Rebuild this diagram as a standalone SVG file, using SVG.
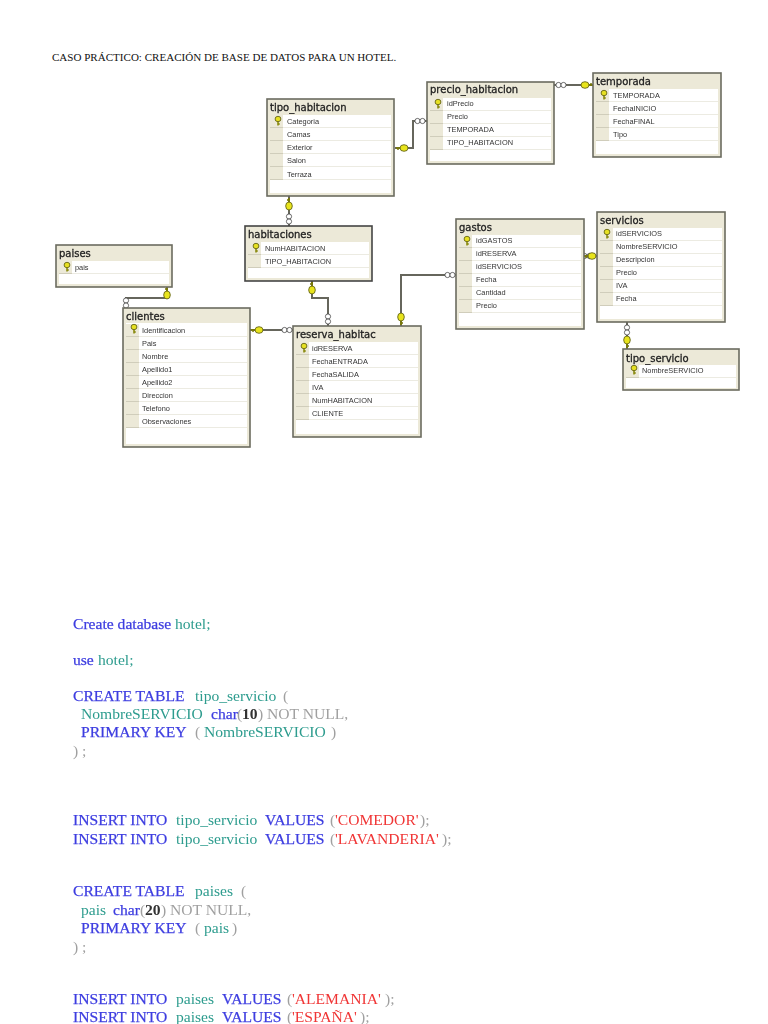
<svg xmlns="http://www.w3.org/2000/svg" width="768" height="1024" viewBox="0 0 768 1024">
<style>
.o{fill:#ece9d8;stroke:#6b6b60;stroke-width:1.6}
.w{fill:#fff}
.h{font:10px "DejaVu Sans",sans-serif;fill:#222;stroke:#222;stroke-width:.3}
.f{font:7.4px "Liberation Sans",sans-serif;fill:#333}
.c{fill:none;stroke:#66665c;stroke-width:2}
.i{fill:#fff;stroke:#444;stroke-width:.8}
.cap{font:11.05px "Liberation Serif",serif;fill:#111}
.s{font:15.6px "Liberation Serif",serif}
.b{fill:#3d3de0;stroke:#3d3de0;stroke-width:.25}.t{fill:#2d9c8e}.g{fill:#a0a0a0}.r{fill:#f03535}.n{fill:#333;font-weight:bold}
</style>
<defs>
<filter id="soft" x="-5%" y="-5%" width="110%" height="110%"><feGaussianBlur stdDeviation="0.45"/></filter>
<pattern id="rows" patternUnits="userSpaceOnUse" x="3" y="16" width="300" height="13">
<rect width="300" height="13" fill="#fff"/>
<rect width="13" height="12" fill="#ece9d8"/>
<rect y="12" width="13" height="1" fill="#d0cdbb"/>
<rect x="13" y="12" width="287" height="1" fill="#ecebe2"/>
</pattern>
<g id="pk"><path d="M0 0V4.5M0 3H1.8" stroke="#8a8a10" stroke-width="1.6" fill="none"/><ellipse cx="0" cy="-2" rx="2.9" ry="2.7" fill="#e6e020" stroke="#66661a" stroke-width=".9"/></g>
<g id="rk"><path d="M-6 0H0M-4 0V1.8" stroke="#777710" stroke-width="2" fill="none"/><ellipse cx="2" cy="0" rx="4" ry="3.3" fill="#e8e41c" stroke="#66661a" stroke-width=".9"/></g>
<g id="inf"><circle cx="-2.5" cy="0" r="2.6" class="i"/><circle cx="2.5" cy="0" r="2.6" class="i"/></g>
</defs>
<rect width="768" height="1024" fill="#fff"/>
<text class="cap" x="52" y="61">CASO PRÁCTICO: CREACIÓN DE BASE DE DATOS PARA UN HOTEL.</text>
<g filter="url(#soft)">
<g id="connectors">
<path class="c" d="M395 148H413V121H427"/><use href="#rk" x="402" y="148"/><use href="#inf" x="420" y="121"/>
<path class="c" d="M554 85H593"/><use href="#inf" x="561" y="85"/><use href="#rk" transform="translate(587 85) rotate(180)"/>
<path class="c" d="M289 196V226"/><use href="#rk" transform="translate(289 204) rotate(90)"/><use href="#inf" transform="translate(289 219) rotate(90)"/>
<path class="c" d="M312 281V298H328V326"/><use href="#rk" transform="translate(312 288) rotate(90)"/><use href="#inf" transform="translate(328 319) rotate(90)"/>
<path class="c" d="M167 287V298H126V308"/><use href="#rk" transform="translate(167 293) rotate(90)"/><use href="#inf" transform="translate(126 303) rotate(90)"/>
<path class="c" d="M250 330H293"/><use href="#rk" x="257" y="330"/><use href="#inf" x="287" y="330"/>
<path class="c" d="M401 326V275H456"/><use href="#rk" transform="translate(401 319) rotate(-90)"/><use href="#inf" x="450" y="275"/>
<path class="c" d="M584 256H597"/><use href="#inf" x="587" y="256"/><use href="#rk" transform="translate(590 256)"/>
<path class="c" d="M627 322V349"/><use href="#inf" transform="translate(627 330) rotate(90)"/><use href="#rk" transform="translate(627 342) rotate(-90)"/>
</g>
<g id="tipo_habitacion" transform="translate(267 99)"><rect class="o" width="127" height="97"/><rect class="w" x="3" y="16" width="121" height="78"/><rect x="3" y="16" width="121" height="65" fill="url(#rows)"/><text class="h" x="3" y="12">tipo_habitacion</text><use href="#pk" x="11" y="22"/><text class="f" x="20" y="25">Categoria</text><text class="f" x="20" y="38">Camas</text><text class="f" x="20" y="51">Exterior</text><text class="f" x="20" y="64">Salon</text><text class="f" x="20" y="78">Terraza</text></g>
<g id="precio_habitacion" transform="translate(427 82)"><rect class="o" width="127" height="82"/><rect class="w" x="3" y="16" width="121" height="63"/><rect x="3" y="16" width="121" height="52" fill="url(#rows)"/><text class="h" x="3" y="11">precio_habitacion</text><use href="#pk" x="11" y="22"/><text class="f" x="20" y="24">idPrecio</text><text class="f" x="20" y="37">Precio</text><text class="f" x="20" y="50">TEMPORADA</text><text class="f" x="20" y="63">TIPO_HABITACION</text></g>
<g id="temporada" transform="translate(593 73)"><rect class="o" width="128" height="84"/><rect class="w" x="3" y="16" width="122" height="65"/><rect x="3" y="16" width="122" height="52" fill="url(#rows)"/><text class="h" x="3" y="12">temporada</text><use href="#pk" x="11" y="22"/><text class="f" x="20" y="25">TEMPORADA</text><text class="f" x="20" y="38">FechaINICIO</text><text class="f" x="20" y="51">FechaFINAL</text><text class="f" x="20" y="64">Tipo</text></g>
<g id="paises" transform="translate(56 245)"><rect class="o" width="116" height="42"/><rect class="w" x="3" y="16" width="110" height="23"/><rect x="3" y="16" width="110" height="13" fill="url(#rows)"/><text class="h" x="3" y="12">paises</text><use href="#pk" x="11" y="22"/><text class="f" x="19" y="25">pais</text></g>
<g id="clientes" transform="translate(123 308)"><rect class="o" width="127" height="139"/><rect class="w" x="3" y="15" width="121" height="121"/><rect x="3" y="16" width="121" height="104" fill="url(#rows)"/><text class="h" x="3" y="12">clientes</text><use href="#pk" x="11" y="21"/><text class="f" x="19" y="25">Identificacion</text><text class="f" x="19" y="38">Pais</text><text class="f" x="19" y="51">Nombre</text><text class="f" x="19" y="64">Apellido1</text><text class="f" x="19" y="77">Apellido2</text><text class="f" x="19" y="90">Direccion</text><text class="f" x="19" y="103">Telefono</text><text class="f" x="19" y="116">Observaciones</text></g>
<g id="habitaciones" transform="translate(245 226)"><rect class="o" width="127" height="55" style="stroke:#444"/><rect class="w" x="3" y="16" width="121" height="36"/><rect x="3" y="16" width="121" height="26" fill="url(#rows)"/><text class="h" x="3" y="12">habitaciones</text><use href="#pk" x="11" y="22"/><text class="f" x="20" y="25">NumHABITACION</text><text class="f" x="20" y="38">TIPO_HABITACION</text></g>
<g id="reserva_habitac" transform="translate(293 326)"><rect class="o" width="128" height="111"/><rect class="w" x="3" y="16" width="122" height="92"/><rect x="3" y="16" width="122" height="78" fill="url(#rows)"/><text class="h" x="3" y="12">reserva_habitac</text><use href="#pk" x="11" y="22"/><text class="f" x="19" y="25">idRESERVA</text><text class="f" x="19" y="38">FechaENTRADA</text><text class="f" x="19" y="51">FechaSALIDA</text><text class="f" x="19" y="64">IVA</text><text class="f" x="19" y="77">NumHABITACION</text><text class="f" x="19" y="90">CLIENTE</text></g>
<g id="gastos" transform="translate(456 219)"><rect class="o" width="128" height="110"/><rect class="w" x="3" y="16" width="122" height="91"/><rect x="3" y="16" width="122" height="78" fill="url(#rows)"/><text class="h" x="3" y="12">gastos</text><use href="#pk" x="11" y="22"/><text class="f" x="20" y="24">idGASTOS</text><text class="f" x="20" y="37">idRESERVA</text><text class="f" x="20" y="50">idSERVICIOS</text><text class="f" x="20" y="63">Fecha</text><text class="f" x="20" y="76">Cantidad</text><text class="f" x="20" y="89">Precio</text></g>
<g id="servicios" transform="translate(597 212)"><rect class="o" width="128" height="110"/><rect class="w" x="3" y="16" width="122" height="91"/><rect x="3" y="16" width="122" height="78" fill="url(#rows)"/><text class="h" x="3" y="12">servicios</text><use href="#pk" x="10" y="22"/><text class="f" x="19" y="24">idSERVICIOS</text><text class="f" x="19" y="37">NombreSERVICIO</text><text class="f" x="19" y="50">Descripcion</text><text class="f" x="19" y="63">Precio</text><text class="f" x="19" y="76">IVA</text><text class="f" x="19" y="89">Fecha</text></g>
<g id="tipo_servicio" transform="translate(623 349)"><rect class="o" width="116" height="41"/><rect class="w" x="3" y="16" width="110" height="23"/><rect x="3" y="16" width="110" height="13" fill="url(#rows)"/><text class="h" x="3" y="13">tipo_servicio</text><use href="#pk" x="11" y="21"/><text class="f" x="19" y="24">NombreSERVICIO</text></g>
</g>
<g filter="url(#soft)" class="s">
<text y="629"><tspan class="b" x="73">Create database</tspan><tspan class="t" x="175">hotel;</tspan></text>
<text y="665"><tspan class="b" x="73">use</tspan><tspan class="t" x="98">hotel;</tspan></text>
<text y="701"><tspan class="b" x="73">CREATE TABLE</tspan><tspan class="t" x="195">tipo_servicio</tspan><tspan class="g" x="283">(</tspan></text>
<text y="719"><tspan class="t" x="81">NombreSERVICIO</tspan><tspan class="b" x="211">char</tspan><tspan class="g" x="237">(</tspan><tspan class="n" x="242">10</tspan><tspan class="g" x="258">) NOT NULL,</tspan></text>
<text y="737"><tspan class="b" x="81">PRIMARY KEY</tspan><tspan class="g" x="195">(</tspan><tspan class="t" x="204">NombreSERVICIO</tspan><tspan class="g" x="331">)</tspan></text>
<text y="756" class="g" x="73">) ;</text>
<text y="825"><tspan class="b" x="73">INSERT INTO</tspan><tspan class="t" x="176">tipo_servicio</tspan><tspan class="b" x="265">VALUES</tspan><tspan class="g" x="330">(</tspan><tspan class="r" x="335">'COMEDOR'</tspan><tspan class="g" x="420">);</tspan></text>
<text y="844"><tspan class="b" x="73">INSERT INTO</tspan><tspan class="t" x="176">tipo_servicio</tspan><tspan class="b" x="265">VALUES</tspan><tspan class="g" x="330">(</tspan><tspan class="r" x="335">'LAVANDERIA'</tspan><tspan class="g" x="442">);</tspan></text>
<text y="896"><tspan class="b" x="73">CREATE TABLE</tspan><tspan class="t" x="195">paises</tspan><tspan class="g" x="241">(</tspan></text>
<text y="915"><tspan class="t" x="81">pais</tspan><tspan class="b" x="113">char</tspan><tspan class="g" x="140">(</tspan><tspan class="n" x="145">20</tspan><tspan class="g" x="161">) NOT NULL,</tspan></text>
<text y="933"><tspan class="b" x="81">PRIMARY KEY</tspan><tspan class="g" x="195">(</tspan><tspan class="t" x="204">pais</tspan><tspan class="g" x="232">)</tspan></text>
<text y="952" class="g" x="73">) ;</text>
<text y="1004"><tspan class="b" x="73">INSERT INTO</tspan><tspan class="t" x="176">paises</tspan><tspan class="b" x="222">VALUES</tspan><tspan class="g" x="287">(</tspan><tspan class="r" x="292">'ALEMANIA'</tspan><tspan class="g" x="385">);</tspan></text>
<text y="1022"><tspan class="b" x="73">INSERT INTO</tspan><tspan class="t" x="176">paises</tspan><tspan class="b" x="222">VALUES</tspan><tspan class="g" x="287">(</tspan><tspan class="r" x="292">'ESPAÑA'</tspan><tspan class="g" x="360">);</tspan></text>
</g>
</svg>
